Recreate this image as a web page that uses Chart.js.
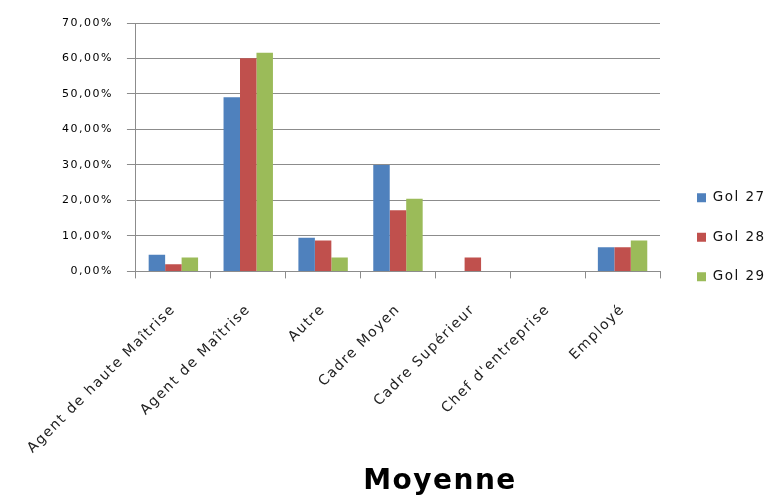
<!DOCTYPE html>
<html>
<head>
<meta charset="utf-8">
<script src="https://cdn.jsdelivr.net/npm/chart.js@4"></script>
<style>
html,body{margin:0;padding:0;background:#fff;}
#wrap{width:773px;height:501px;position:relative;}
</style>
</head>
<body>
<div id="wrap"><canvas id="c" width="773" height="501"></canvas></div>
<script>
const categories = ["Agent de haute Maîtrise","Agent de Maîtrise","Autre","Cadre Moyen","Cadre Supérieur","Chef d'entreprise","Employé"];
const seriesNames = ["Gol 27","Gol 28","Gol 29"];
const gol27 = [4.7, 49.1, 9.5, 30.0, 0, 0, 6.8];
const gol28 = [2.0, 60.1, 8.7, 17.2, 3.9, 0, 6.8];
const gol29 = [3.9, 61.6, 3.9, 20.5, 0, 0, 8.7];
const yTicks = [0,10,20,30,40,50,60,70];
const colors = ["#4F81BD","#C0504D","#9BBB59"];
const titleText = "Moyenne";

const fontFam = "'DejaVu Sans', Verdana, sans-serif";
const spacingPlugin = {
  id: 'letterSpacing',
  beforeLayout(chart) { chart.ctx.letterSpacing = '1.5px'; },
  beforeDraw(chart) { chart.ctx.letterSpacing = '1.5px'; }
};
const spacer = (w, weight) => ({
  position: 'right', display: true, weight: weight,
  grid: { display: false }, border: { display: false }, ticks: { display: false },
  afterFit: (axis) => { axis.width = w; }
});

new Chart(document.getElementById('c'), {
  type: 'bar',
  plugins: [spacingPlugin],
  data: {
    labels: categories,
    datasets: [gol27, gol28, gol29].map((d,i)=>({
      label: seriesNames[i], data: d, backgroundColor: colors[i], borderWidth: 0,
      barPercentage: 1.0, categoryPercentage: 0.66
    }))
  },
  options: {
    responsive: false, animation: false,
    layout: { padding: { left: 48, right: -59, top: 23, bottom: 2 } },
    plugins: {
      legend: {
        position: 'right', align: 'start', fullSize: true,
        title: { display: true, text: '', padding: { top: 130, bottom: 0 }, font: { size: 10 } },
        labels: { boxWidth: 9, boxHeight: 9, padding: 26, color: '#111',
          font: { family: fontFam, size: 13.5 } }
      },
      title: { display: true, text: titleText, position: 'bottom', color: '#000',
        font: { family: fontFam, size: 28, weight: 'bold' }, padding: { top: 0, bottom: 0 } },
      tooltip: { enabled: false }
    },
    scales: {
      x: {
        grid: { display: true, drawOnChartArea: false, drawTicks: true, tickLength: 7, color: '#8c8c8c', offset: true },
        border: { color: '#8c8c8c' },
        ticks: { maxRotation: 45, minRotation: 45, padding: 23, color: '#222', font: { family: fontFam, size: 14 } },
        afterFit: (axis) => { axis.height = 194; axis.paddingLeft = 0; axis.paddingRight = 0; }
      },
      y: {
        min: 0, max: 70,
        afterBuildTicks: (axis) => { axis.ticks = yTicks.map(v => ({ value: v })); },
        grid: { color: '#8c8c8c', tickLength: 9 },
        border: { color: '#8c8c8c' },
        ticks: { color: '#000', padding: 14, font: { family: fontFam, size: 11 },
          callback: (v) => v.toFixed(2).replace('.', ',') + '%' }
      },
      gapR: spacer(11, 0),
      outerR: spacer(63, 2000)
    }
  }
});
</script>
</body>
</html>
